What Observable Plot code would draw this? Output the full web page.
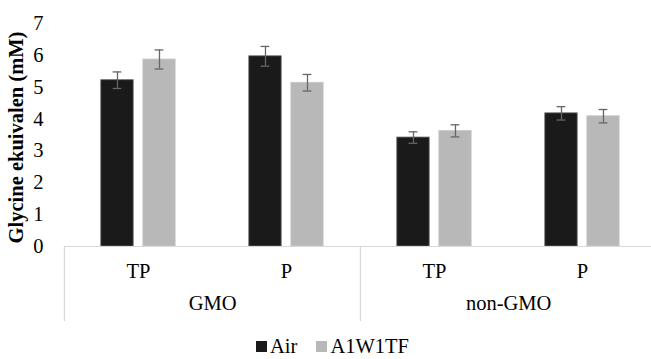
<!DOCTYPE html>
<html>
<head>
<meta charset="utf-8">
<script src="https://cdn.jsdelivr.net/npm/d3@7"></script>
<script src="https://cdn.jsdelivr.net/npm/@observablehq/plot@0.6"></script>
<style>
  body { margin: 0; background: #fff; font-family: "Liberation Serif", "Times New Roman", "DejaVu Serif", serif; }
  #legend { height: 26px; display: flex; align-items: center; justify-content: center; font-size: 20.5px; color: #000; padding-left: 14px; box-sizing: border-box; width: 651px; }
  .sw { display: inline-block; width: 11px; height: 11px; margin-right: 3px; }
  .item { display: flex; align-items: center; margin: 0 9.5px; }
  svg text { font-family: "Liberation Serif", "Times New Roman", "DejaVu Serif", serif; }
</style>
</head>
<body>
<div id="chart"></div>
<div id="legend"></div>
<script>
// ---- data ----
const groups = ["GMO", "non-GMO"];
const subs = ["TP", "P"];
const series = ["Air", "A1W1TF"];
const airMean = [5.22, 5.97, 3.42, 4.18];
const airErr  = [0.26, 0.31, 0.18, 0.21];
const a1Mean  = [5.87, 5.14, 3.63, 4.09];
const a1Err   = [0.30, 0.26, 0.19, 0.21];
const yTicks = [0, 1, 2, 3, 4, 5, 6, 7];
const yTitle = "Glycine ekuivalen (mM)";

// ---- build table ----
const keys = [];
const keyGroup = {}, keySub = {};
groups.forEach(g => subs.forEach(s => { const k = g + "|" + s; keys.push(k); keyGroup[k] = g; keySub[k] = s; }));
const airRows = keys.map((k, i) => ({key: k, value: airMean[i], err: airErr[i]}));
const a1Rows = keys.map((k, i) => ({key: k, value: a1Mean[i], err: a1Err[i]}));
const groupStarts = groups.map(g => keys.find(k => keyGroup[k] === g));

// ---- layout ----
const xLeft = 63.9, xRight = 656.8;
const bw = (xRight - xLeft) / keys.length;
const outer = 36.8, barW = 32.6, gap = 9.4, capW = 9;
const airC = outer + barW / 2, a1C = outer + barW + gap + barW / 2;
const colors = {Air: "#1a1a1a", A1W1TF: "#b8b8b8"};
const errColor = "#666666";
const font = '"Liberation Serif", "Times New Roman", serif';

const chart = Plot.plot({
  width: 651,
  height: 333,
  marginLeft: 64,
  marginRight: 0,
  marginTop: 23,
  marginBottom: 87,
  style: {fontFamily: font, fontSize: "20.5px", color: "#000", background: "#fff"},
  x: {type: "band", domain: keys, range: [xLeft, xRight], padding: 0},
  y: {domain: [0, 7]},
  marks: [
    Plot.barY(airRows, {x: "key", y: "value", fill: colors.Air, stroke: "#666666", strokeWidth: 0.8, insetLeft: outer, insetRight: bw - outer - barW}),
    Plot.barY(a1Rows, {x: "key", y: "value", fill: colors.A1W1TF, stroke: "#cccccc", strokeWidth: 0.8, insetLeft: outer + barW + gap, insetRight: outer}),
    Plot.ruleX(airRows, {x: "key", y1: d => d.value - d.err, y2: d => d.value + d.err, dx: airC - bw / 2, stroke: errColor, strokeWidth: 1.3}),
    Plot.ruleX(a1Rows, {x: "key", y1: d => d.value - d.err, y2: d => d.value + d.err, dx: a1C - bw / 2, stroke: errColor, strokeWidth: 1.3}),
    Plot.tickY(airRows, {x: "key", y: d => d.value + d.err, insetLeft: airC - capW / 2, insetRight: bw - airC - capW / 2, stroke: errColor, strokeWidth: 1.3}),
    Plot.tickY(airRows, {x: "key", y: d => d.value - d.err, insetLeft: airC - capW / 2, insetRight: bw - airC - capW / 2, stroke: errColor, strokeWidth: 1.3}),
    Plot.tickY(a1Rows, {x: "key", y: d => d.value + d.err, insetLeft: a1C - capW / 2, insetRight: bw - a1C - capW / 2, stroke: errColor, strokeWidth: 1.3}),
    Plot.tickY(a1Rows, {x: "key", y: d => d.value - d.err, insetLeft: a1C - capW / 2, insetRight: bw - a1C - capW / 2, stroke: errColor, strokeWidth: 1.3}),
    Plot.ruleY([0], {stroke: "#d9d9d9", strokeWidth: 1.2}),
    Plot.axisY(yTicks, {tickSize: 0, tickPadding: 21, label: null, fontSize: 20.5}),
    Plot.axisX(keys, {tickSize: 0, tickPadding: 17, tickFormat: k => keySub[k], label: null, fontSize: 20.5}),
    Plot.axisX(groupStarts, {tickSize: 75, stroke: "#d9d9d9", strokeWidth: 1.2, dx: -bw / 2, tickFormat: () => "", label: null}),
    Plot.text(groupStarts, {x: d => d, text: d => keyGroup[d], frameAnchor: "bottom", dx: bw / 2, dy: 63, fontSize: 20.5}),
    Plot.text([yTitle], {text: d => d, frameAnchor: "left", textAnchor: "middle", dx: -48, dy: 2.5, rotate: -90, fontWeight: "bold", fontSize: 20.5})
  ]
});
document.getElementById("chart").appendChild(chart);

const legend = document.getElementById("legend");
series.forEach(s => {
  const it = document.createElement("span");
  it.className = "item";
  const sw = document.createElement("span");
  sw.className = "sw";
  sw.style.background = colors[s];
  it.appendChild(sw);
  it.appendChild(document.createTextNode(s));
  legend.appendChild(it);
});
</script>
</body>
</html>
